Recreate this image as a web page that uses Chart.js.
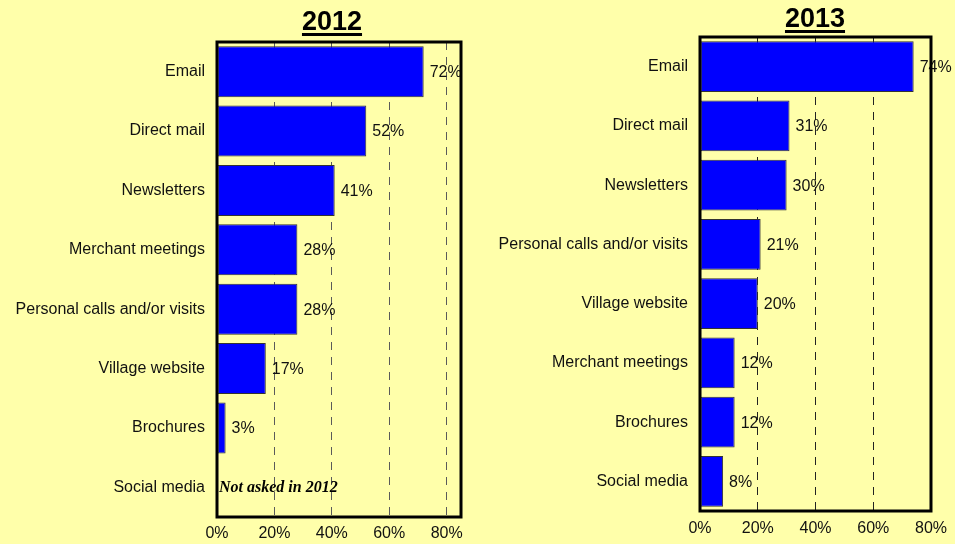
<!DOCTYPE html>
<html>
<head>
<meta charset="utf-8">
<script src="https://cdn.jsdelivr.net/npm/chart.js@4.4.1/dist/chart.umd.min.js"></script>
<style>
  html, body { margin: 0; padding: 0; background: #FFFFAA; }
  body { width: 955px; height: 544px; position: relative; overflow: hidden; }
  canvas { position: absolute; top: 0; }
  #chart2012 { left: 0; }
  #chart2013 { left: 480px; }
</style>
</head>
<body>
<canvas id="chart2012" width="480" height="544"></canvas>
<canvas id="chart2013" width="475" height="544"></canvas>
<script>
// survey results, percent of respondents
const labels2012 = ['Email', 'Direct mail', 'Newsletters', 'Merchant meetings',
  'Personal calls and/or visits', 'Village website', 'Brochures', 'Social media'];
const values2012 = [72, 52, 41, 28, 28, 17, 3, null];

const labels2013 = ['Email', 'Direct mail', 'Newsletters', 'Personal calls and/or visits',
  'Village website', 'Merchant meetings', 'Brochures', 'Social media'];
const values2013 = [74, 31, 30, 21, 20, 12, 12, 8];

const BAR_BLUE = '#0000FF';
const TEXT = '#111';
const SANS = 'Arial, "Liberation Sans", sans-serif';

// underlined year heading, frame around the plot, value labels
const panelDecor = {
  id: 'panelDecor',
  afterDatasetsDraw(chart, args, opts) {
    const ctx = chart.ctx;
    const meta = chart.getDatasetMeta(0);
    const data = chart.data.datasets[0].data;
    ctx.save();
    ctx.font = '16px ' + SANS;
    ctx.fillStyle = TEXT;
    ctx.textBaseline = 'middle';
    ctx.textAlign = 'left';
    meta.data.forEach((bar, i) => {
      if (data[i] == null) return;
      ctx.fillText(data[i] + '%', bar.x + 6, bar.y + 1);
    });
    if (opts.note) {
      const y = chart.scales.y.getPixelForValue(opts.note.index);
      ctx.font = 'italic bold 16px "Liberation Serif", "Times New Roman", serif';
      ctx.fillStyle = '#000';
      ctx.fillText(opts.note.text, chart.chartArea.left + 2, y + 1);
    }
    ctx.restore();
  },
  afterDraw(chart, args, opts) {
    const ctx = chart.ctx;
    const a = chart.chartArea;
    ctx.save();
    ctx.strokeStyle = '#000';
    ctx.lineWidth = 3;
    ctx.strokeRect(a.left, a.top, a.right - a.left, a.bottom - a.top);

    ctx.font = 'bold 27px ' + SANS;
    ctx.fillStyle = '#000';
    ctx.textAlign = 'center';
    ctx.textBaseline = 'alphabetic';
    ctx.fillText(opts.title, opts.titleX, opts.titleY);
    const w = ctx.measureText(opts.title).width;
    ctx.fillRect(opts.titleX - w / 2, opts.titleY + 3, w, 3);
    ctx.restore();
  }
};

function makeChart(id, labels, values, cfg) {
  return new Chart(document.getElementById(id), {
    type: 'bar',
    data: {
      labels: labels,
      datasets: [{
        data: values,
        backgroundColor: BAR_BLUE,
        borderColor: '#333',
        borderWidth: 1,
        borderSkipped: false,
        categoryPercentage: 0.86,
        barPercentage: 1
      }]
    },
    options: {
      indexAxis: 'y',
      responsive: false,
      animation: false,
      layout: { padding: { left: 0, right: cfg.padRight, top: cfg.top, bottom: 0 } },
      scales: {
        x: {
          min: 0,
          max: cfg.max,
          afterFit: (s) => { s.height = 544 - cfg.bottom; },
          ticks: {
            stepSize: 20,
            includeBounds: false,
            padding: cfg.tickPad,
            color: TEXT,
            font: { family: SANS, size: 16 },
            callback: (v) => v + '%'
          },
          grid: {
            drawTicks: false,
            lineWidth: 1,
            color: (c) => (c.tick && c.tick.value > 0 && c.tick.value < cfg.max) ? cfg.gridColor : 'rgba(0,0,0,0)'
          },
          border: { display: false, dash: [8, 7] }
        },
        y: {
          afterFit: (s) => { s.width = cfg.left; },
          ticks: {
            padding: 12,
            color: TEXT,
            font: { family: SANS, size: 16 }
          },
          grid: { display: false, drawTicks: false },
          border: { display: false }
        }
      },
      plugins: {
        legend: { display: false },
        tooltip: { enabled: false },
        panelDecor: {
          title: cfg.title,
          titleX: cfg.titleX,
          titleY: cfg.titleY,
          note: cfg.note
        }
      }
    },
    plugins: [panelDecor]
  });
}

makeChart('chart2012', labels2012, values2012, {
  max: 85, left: 217, padRight: 19, top: 42, bottom: 517, tickPad: 7,
  gridColor: '#5a5a5a', title: '2012', titleX: 332, titleY: 30,
  note: { index: 7, text: 'Not asked in 2012' }
});

makeChart('chart2013', labels2013, values2013, {
  max: 80, left: 220, padRight: 23, top: 37, bottom: 511, tickPad: 8,
  gridColor: '#222222', title: '2013', titleX: 335, titleY: 27
});
</script>
</body>
</html>
